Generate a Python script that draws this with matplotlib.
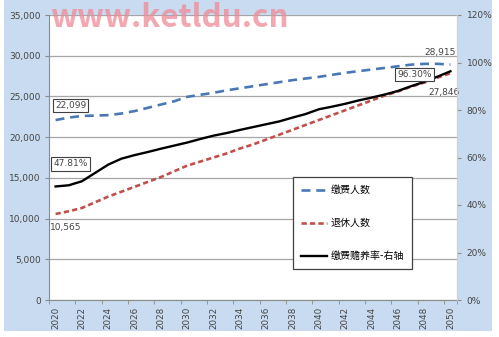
import matplotlib
matplotlib.use("Agg")
import matplotlib.pyplot as plt
from matplotlib.patches import Rectangle
from matplotlib.ticker import FuncFormatter, FixedLocator

plt.rcParams['font.family'] = ['DejaVu Sans', 'Noto Sans CJK SC']

years = list(range(2020, 2051))
# 缴费人数 (left axis)
contributors = [22099, 22400, 22600, 22650, 22700, 22900, 23200, 23600, 24000, 24400,
                24950, 25200, 25450, 25750, 26000, 26250, 26500, 26750, 27000, 27200,
                27400, 27650, 27900, 28100, 28300, 28500, 28700, 28900, 29000, 29000,
                28915]
# 退休人数 (left axis)
retirees = [10565, 10900, 11300, 12000, 12700, 13300, 13900, 14500, 15100, 15800,
            16500, 17000, 17500, 18000, 18600, 19100, 19700, 20300, 20900, 21500,
            22100, 22700, 23300, 23900, 24500, 25100, 25600, 26200, 26700, 27300,
            27846]
# 缴费赡养率 (right axis, %)
ratio = [47.81, 48.3, 50.0, 53.5, 57.0, 59.5, 61.0, 62.3, 63.7, 65.0,
         66.3, 67.8, 69.2, 70.3, 71.6, 72.8, 74.0, 75.2, 76.8, 78.3,
         80.3, 81.4, 82.6, 84.0, 85.2, 86.5, 88.0, 90.0, 91.8, 94.0,
         96.30]
series_names = ['缴费人数', '退休人数', '缴费赡养率-右轴']

W, H = 499, 337
fig = plt.figure(figsize=(W / 100, H / 100), dpi=100)
fig.patch.set_facecolor('white')
# light blue chart frame, drawn behind the axes
frame = Rectangle((4 / W, 1 - 331 / H), 488 / W, 331 / H,
                  transform=fig.transFigure, facecolor='#c9dbf0',
                  edgecolor='none', zorder=-10)
fig.add_artist(frame)

ax = fig.add_axes([49 / W, 1 - 300 / H, 408 / W, 285 / H])
ax.set_facecolor('white')
idx = list(range(len(years)))

grid_c = '#a6a6a6'
tick_c = '#454545'
ax.set_xlim(-0.5, len(years) - 0.5)
ax.set_ylim(0, 35000)
ax.set_yticks(range(0, 35001, 5000))
ax.yaxis.set_major_formatter(FuncFormatter(lambda v, p: f'{int(v):,}'))
ax.grid(axis='y', color=grid_c, lw=0.9)
ax.set_axisbelow(True)
ax.spines['top'].set_visible(False)
ax.spines['left'].set_color('#8c8c8c')
ax.spines['bottom'].set_color('#8c8c8c')
ax.spines['right'].set_color('#d0d0d0')
ax.tick_params(axis='y', labelsize=6.5, colors='#8c8c8c', labelcolor=tick_c, length=3, pad=3)

ax.set_xticks(idx[::2])
ax.set_xticklabels([str(y) for y in years[::2]], rotation=90)
ax.tick_params(axis='x', which='major', length=0, labelsize=6.3, labelcolor=tick_c, pad=5)
ax.xaxis.set_minor_locator(FixedLocator([i - 0.5 for i in idx[::2]] + [len(years) - 0.5]))
ax.tick_params(axis='x', which='minor', length=3, color='#8c8c8c')

l1, = ax.plot(idx, contributors, color='#4a78b5', lw=1.9, linestyle=(0, (3.4, 2.2)))
l2, = ax.plot(idx, retirees, color='#c0504d', lw=1.9, linestyle=(0, (2.0, 1.2)))

ax2 = ax.twinx()
ax2.set_ylim(0, 1.2)
ax2.set_yticks([0, 0.2, 0.4, 0.6, 0.8, 1.0, 1.2])
ax2.yaxis.set_major_formatter(FuncFormatter(lambda v, p: f'{v * 100:.0f}%'))
ax2.tick_params(axis='y', labelsize=6.5, colors='#8c8c8c', labelcolor=tick_c, length=3, pad=4)
for s in ['top', 'left', 'bottom']:
    ax2.spines[s].set_visible(False)
ax2.spines['right'].set_color('#d0d0d0')
l3, = ax2.plot(idx, [r / 100 for r in ratio], color='black', lw=1.7)

bbox = dict(boxstyle='square,pad=0.25', fc='white', ec='#404040', lw=0.8)
fs = 6.5
ax.annotate(f'{contributors[0]:,}', (idx[0], contributors[0]), xytext=(15, 14.5),
            textcoords='offset pixels', ha='center', va='center', fontsize=fs,
            color=tick_c, bbox=bbox)
ax.annotate(f'{retirees[0]:,}', (idx[0], retirees[0]), xytext=(10, -14),
            textcoords='offset pixels', ha='center', va='center', fontsize=fs, color=tick_c)
ax.annotate(f'{contributors[-1]:,}', (idx[-1], contributors[-1]), xytext=(-10, 12.5),
            textcoords='offset pixels', ha='center', va='center', fontsize=fs, color=tick_c)
ax.annotate(f'{retirees[-1]:,}', (idx[-1], retirees[-1]), xytext=(-6, -19),
            textcoords='offset pixels', ha='center', va='center', fontsize=fs, color=tick_c)
ax2.annotate(f'{ratio[0]:.2f}%', (idx[0], ratio[0] / 100), xytext=(15, 22.5),
             textcoords='offset pixels', ha='center', va='center', fontsize=fs,
             color=tick_c, bbox=bbox)
ax2.annotate(f'{ratio[-1]:.2f}%', (idx[-1], ratio[-1] / 100), xytext=(-36, -3),
             textcoords='offset pixels', ha='center', va='center', fontsize=fs,
             color=tick_c, bbox=bbox)

leg = ax2.legend([l1, l2, l3], series_names, loc='upper left',
                 bbox_to_anchor=(293 / W, 1 - 177 / H), bbox_transform=fig.transFigure,
                 prop={'family': ['Noto Sans CJK SC'], 'size': 7.2},
                 frameon=True, fancybox=False, edgecolor='#404040', framealpha=1,
                 labelspacing=2.3, handlelength=2.6, handletextpad=0.35,
                 borderpad=0.8, borderaxespad=0)
leg.get_frame().set_linewidth(0.9)

# watermark
fig.text(50 / W, 1 - 27 / H, 'www.ketldu.cn', fontsize=22.5, fontweight='bold',
         family=['Noto Sans CJK SC'], color='#f08a96', alpha=0.75, ha='left',
         va='baseline', zorder=10)

fig.savefig('out.png', dpi=100)
